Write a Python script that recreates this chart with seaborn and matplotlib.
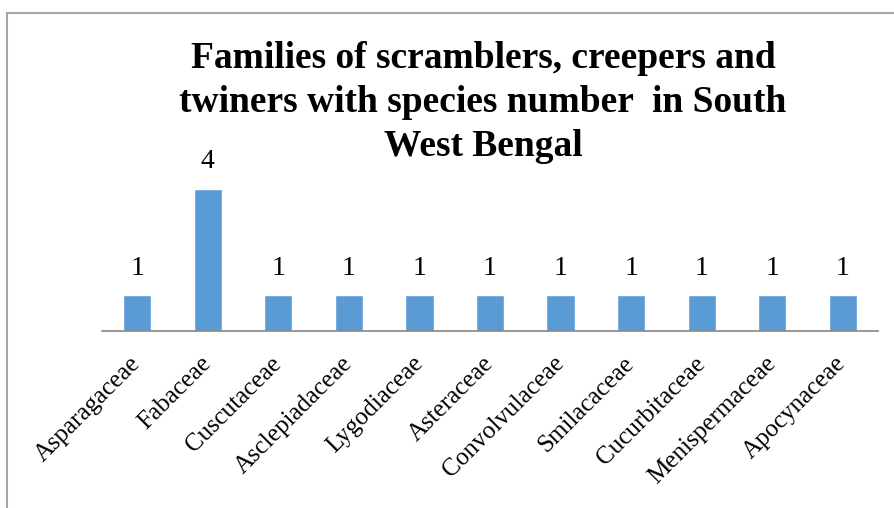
import matplotlib
matplotlib.use("Agg")
import matplotlib.pyplot as plt
import seaborn as sns
import pandas as pd
from matplotlib.patches import Rectangle

# Data
families = ["Asparagaceae", "Fabaceae", "Cuscutaceae", "Asclepiadaceae", "Lygodiaceae",
            "Asteraceae", "Convolvulaceae", "Smilacaceae", "Cucurbitaceae",
            "Menispermaceae", "Apocynaceae"]
species_count = [1, 4, 1, 1, 1, 1, 1, 1, 1, 1, 1]

title_lines = ["Families of scramblers, creepers and",
               "twiners with species number  in South",
               "West Bengal"]

sns.set_theme(style="white")
plt.rcParams['font.family'] = ['Liberation Serif', 'DejaVu Serif']

df = pd.DataFrame({'Family': families, 'Species': species_count})

fig = plt.figure(figsize=(8.94, 5.08), dpi=100)
ax = fig.add_axes([102 / 894, 1 - 331 / 508, 776 / 894, 180 / 508])

sns.barplot(data=df, x='Family', y='Species', color='#5B9BD5', saturation=1,
            width=0.4, ax=ax)

ax.set_ylim(0, 180 / 35.6)
ax.set_xlim(-0.5, len(families) - 0.5)
ax.set_yticks([])
ax.set_xlabel('')
ax.set_ylabel('')
for s in ['top', 'right', 'left']:
    ax.spines[s].set_visible(False)
ax.spines['bottom'].set_color('#868686')
ax.spines['bottom'].set_linewidth(1.2)
ax.tick_params(axis='x', length=0, pad=21)

for lbl in ax.get_xticklabels():
    lbl.set_rotation(45)
    lbl.set_ha('right')
    lbl.set_va('center')
    lbl.set_rotation_mode('anchor')
    lbl.set_fontsize(18)
    lbl.set_color('black')

for i, v in enumerate(species_count):
    ax.text(i, v + 0.4, str(v), ha='center', va='bottom', fontsize=20, color='black')

# title, one text per line (baselines ~68, 112, 156 px)
for k, line in enumerate(title_lines):
    fig.text(483 / 894, 1 - (68 + 44 * k) / 508, line, ha='center', va='baseline',
             fontsize=27, fontweight='bold', color='black')

# Chart area border (only left and top edges inside the image)
fig.patches.append(Rectangle((7 / 894, -0.1), 1.2, 1 - 13 / 508 + 0.1,
                             transform=fig.transFigure, fill=False,
                             edgecolor='#A6A6A6', linewidth=1.5))

fig.savefig('out.png', dpi=100)
